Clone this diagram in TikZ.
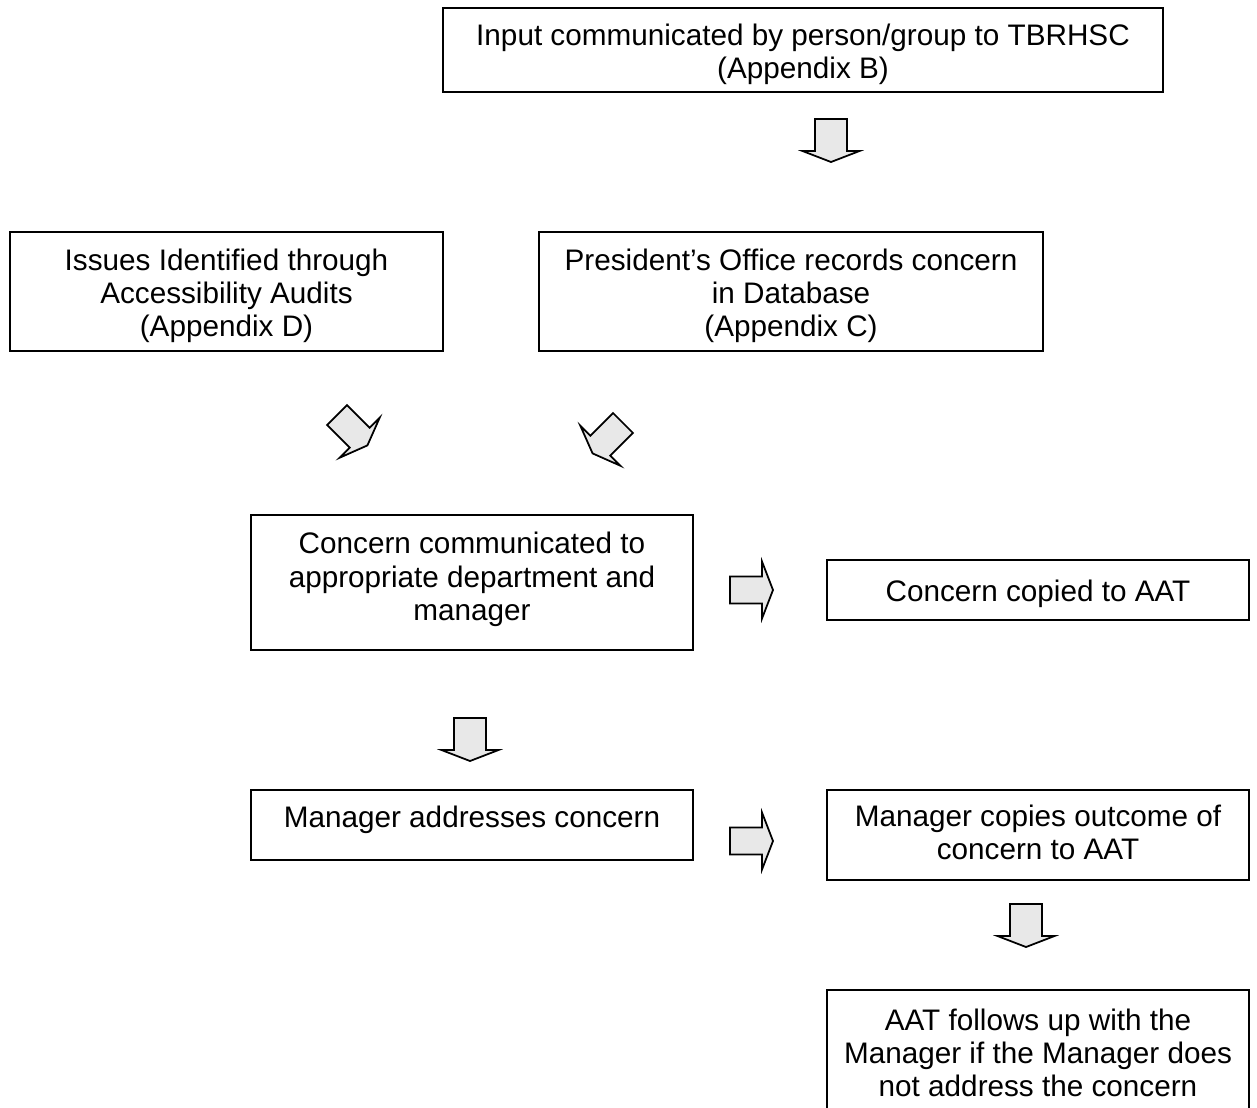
\documentclass[tikz,border=0pt]{standalone}
\usepackage{fontspec}
\setmainfont{Liberation Sans}
\tikzset{
  box/.style={draw,line width=1pt,align=center,inner sep=0pt,
              font=\fontsize{16.9}{18.8}\selectfont},
  blockarrow/.style={draw,line width=1pt,fill=gray!18,line join=miter}
}
\newcommand*{\padtop}[1]{\rule{0pt}{#1}}
\newcommand*{\padbot}[1]{\rule[-#1]{0pt}{0pt}}
\newcommand*{\blockarrow}[3]{%
  \draw[blockarrow,shift={(#1)},rotate=#2]
    (-#3,0) -- (-#3,32) -- (-28.5,32) -- (0,43) -- (28.5,32) -- (#3,32) -- (#3,0) -- cycle;}

\begin{document}
\begin{tikzpicture}[x=0.02cm,y=-0.02cm]
  \useasboundingbox (0,0) rectangle (1257,1107);
  \node[box,minimum width=14.4cm,minimum height=1.68cm] (input) at (803,50)
       {\padtop{0.6cm}Input communicated by person/group to TBRHSC\\(Appendix B)};
  \node[box,minimum width=8.66cm,minimum height=2.38cm] (audit) at (226.5,291.5)
       {\padtop{0.6cm}Issues Identified through\\Accessibility Audits\\(Appendix D)};
  \node[box,minimum width=10.08cm,minimum height=2.38cm] (office) at (791,291.5)
       {\padtop{0.6cm}President’s Office records concern\\in Database\\(Appendix C)};
  \node[box,minimum width=8.84cm,minimum height=2.7cm] (dept) at (472,582.5)
       {Concern communicated to\\appropriate department and\\manager\padbot{0.25cm}};
  \node[box,minimum width=8.44cm,minimum height=1.2cm] (copied) at (1038,590)
       {\padtop{0.6cm}Concern copied to AAT};
  \node[box,minimum width=8.84cm,minimum height=1.4cm] (manager) at (472,825)
       {Manager addresses concern\padbot{0.33cm}};
  \node[box,minimum width=8.44cm,minimum height=1.8cm] (outcome) at (1038,835)
       {Manager copies outcome of\\concern to AAT\padbot{0.13cm}};
  \node[box,minimum width=8.44cm,minimum height=2.52cm] (follow) at (1038,1053)
       {AAT follows up with the\\Manager if the Manager does\\not address the concern};

  \blockarrow{831,119}{0}{16}
  \blockarrow{337,415}{45}{14}
  \blockarrow{623,423}{-45}{14}
  \blockarrow{730,590}{90}{13.5}
  \blockarrow{470,718}{0}{16}
  \blockarrow{730,841}{90}{13.5}
  \blockarrow{1026,904}{0}{16}
\end{tikzpicture}
\end{document}
